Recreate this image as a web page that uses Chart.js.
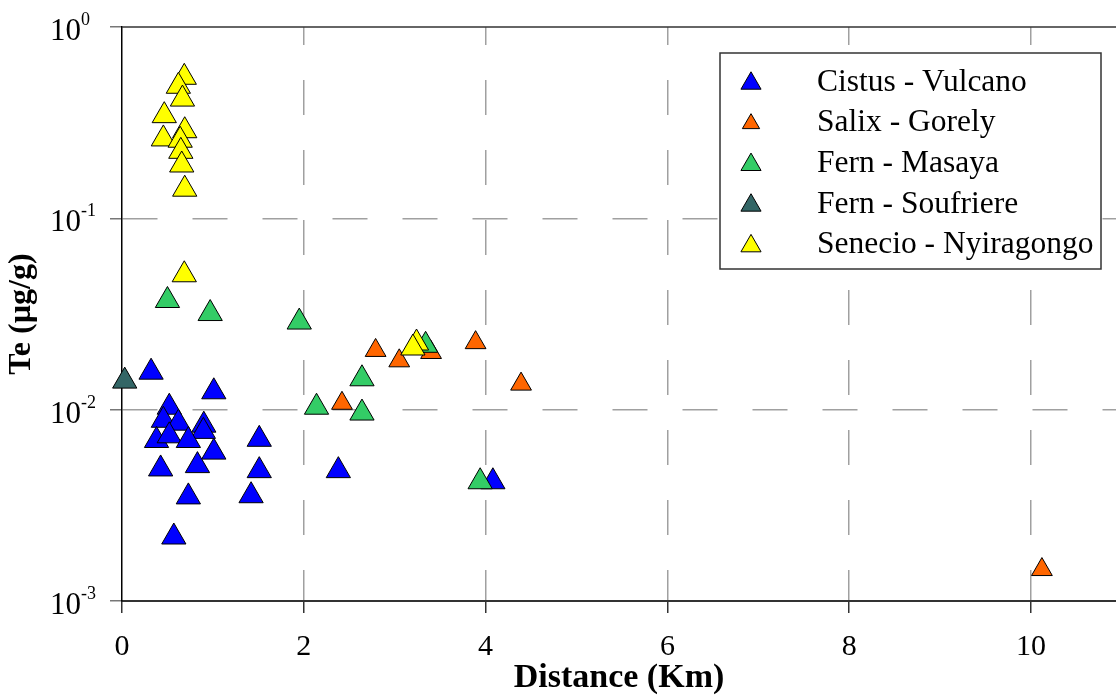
<!DOCTYPE html>
<html>
<head>
<meta charset="utf-8">
<title>Te in leaves vs distance</title>
<script src="https://cdn.jsdelivr.net/npm/chart.js@4.4.1/dist/chart.umd.min.js"></script>
<style>
  html, body { margin: 0; padding: 0; background: #fff; }
  #wrap { width: 1116px; height: 699px; }
</style>
</head>
<body>
<div id="wrap"><canvas id="chart" width="1116" height="699"></canvas></div>
<script>
// series, in legend order
const seriesNames = ['Cistus - Vulcano', 'Salix - Gorely', 'Fern - Masaya', 'Fern - Soufriere', 'Senecio - Nyiragongo'];

// distance from vent (Km) and Te content (µg/g) for each series
const cistusDist = [0.32, 1.01, 0.52, 0.455, 0.62, 0.90, 0.895, 0.38, 0.52, 0.73, 1.51, 1.01, 0.425, 0.83, 1.51, 0.73, 1.42, 0.57, 2.38, 4.08];
const cistusTe   = [0.0157, 0.0124, 0.0103, 0.0088, 0.0085, 0.0083, 0.0077, 0.0069, 0.0073, 0.0069, 0.0070, 0.0060, 0.0049, 0.0051, 0.0048, 0.0035, 0.00355, 0.00216, 0.0048, 0.0042];

const salixDist = [2.42, 2.79, 3.05, 3.40, 3.89, 4.39, 10.12];
const salixTe   = [0.0108, 0.0204, 0.0180, 0.0199, 0.0224, 0.0136, 0.00146];

const masayaDist = [0.50, 0.97, 1.95, 2.14, 2.64, 2.64, 3.34, 3.94];
const masayaTe   = [0.0372, 0.0318, 0.0287, 0.0103, 0.0145, 0.0096, 0.0217, 0.0042];

const soufriereDist = [0.03];
const soufriereTe   = [0.0141];

const senecioDist = [0.685, 0.62, 0.665, 0.465, 0.69, 0.455, 0.64, 0.647, 0.657, 0.69, 0.685, 3.24, 3.20];
const senecioTe   = [0.546, 0.49, 0.42, 0.344, 0.287, 0.26, 0.256, 0.224, 0.19, 0.142, 0.0507, 0.0223, 0.021];

// axis ticks
const xTickValues = [0, 2, 4, 6, 8, 10];
const yTickValues = [0.001, 0.01, 0.1, 1];

// marker looks
const seriesColors = ['#0000ff', '#ff6600', '#33cc66', '#336666', '#ffff00'];
const markerRadius = [14, 12, 14, 14, 14];

const FONT = 'Liberation Serif';
Chart.defaults.font.family = FONT;
Chart.defaults.color = '#000';

function toPoints(xs, ys) {
  return xs.map((x, i) => ({ x: x, y: ys[i] }));
}

const seriesData = [
  toPoints(cistusDist, cistusTe),
  toPoints(salixDist, salixTe),
  toPoints(masayaDist, masayaTe),
  toPoints(soufriereDist, soufriereTe),
  toPoints(senecioDist, senecioTe)
];

const datasets = seriesNames.map((name, i) => ({
  label: name,
  data: seriesData[i],
  // later series sit on top
  order: seriesNames.length - i,
  showLine: false,
  clip: false,
  pointStyle: 'triangle',
  pointRadius: markerRadius[i],
  pointHoverRadius: markerRadius[i],
  pointBackgroundColor: seriesColors[i],
  pointBorderColor: '#000',
  pointBorderWidth: 1,
  pointHoverBorderWidth: 1
}));

function triangle(ctx, x, y, r, fill) {
  ctx.beginPath();
  ctx.moveTo(x, y - r);
  ctx.lineTo(x + r * Math.sin(Math.PI * 2 / 3), y + r / 2);
  ctx.lineTo(x - r * Math.sin(Math.PI * 2 / 3), y + r / 2);
  ctx.closePath();
  ctx.fillStyle = fill;
  ctx.fill();
  ctx.strokeStyle = '#000';
  ctx.lineWidth = 1;
  ctx.stroke();
}

// top frame line, 10^n tick labels and the boxed legend
const decorations = {
  id: 'decorations',
  afterDraw(chart) {
    const { ctx, chartArea: area } = chart;
    const yScale = chart.scales.y;
    ctx.save();

    ctx.strokeStyle = '#333';
    ctx.lineWidth = 1.5;
    ctx.beginPath();
    ctx.moveTo(area.left, area.top);
    ctx.lineTo(area.right, area.top);
    ctx.stroke();

    ctx.fillStyle = '#000';
    ctx.textAlign = 'left';
    ctx.textBaseline = 'alphabetic';
    yScale.ticks.forEach(t => {
      const py = yScale.getPixelForValue(t.value);
      const exp = Math.round(Math.log10(t.value));
      ctx.font = '31px "' + FONT + '"';
      ctx.fillText('10', 50, py + 13);
      const w = ctx.measureText('10').width;
      ctx.font = '18px "' + FONT + '"';
      ctx.fillText(exp === 0 ? '0' : '-' + Math.abs(exp), 50 + w, py - 2);
    });

    const box = { left: 720, top: 53, right: 1101, bottom: 269 };
    ctx.fillStyle = '#fff';
    ctx.fillRect(box.left, box.top, box.right - box.left, box.bottom - box.top);
    ctx.strokeStyle = '#333';
    ctx.lineWidth = 1.5;
    ctx.strokeRect(box.left, box.top, box.right - box.left, box.bottom - box.top);

    chart.data.datasets.forEach((ds, i) => {
      const rowY = 80.5 + i * 40.65;
      const r = ds.pointRadius * 0.83;
      triangle(ctx, 751, rowY + r / 4, r, ds.pointBackgroundColor);
      ctx.fillStyle = '#000';
      ctx.font = '31.5px "' + FONT + '"';
      ctx.fillText(ds.label, 817, rowY + 10.2);
    });
    ctx.restore();
  }
};

const gridGray = '#a0a0a0';
const hidden = 'rgba(0,0,0,0)';

new Chart(document.getElementById('chart'), {
  type: 'scatter',
  data: { datasets: datasets },
  options: {
    responsive: false,
    animation: false,
    layout: { autoPadding: false, padding: { top: 27, left: 0, right: 0, bottom: 0 } },
    plugins: {
      legend: { display: false },
      tooltip: { enabled: false }
    },
    scales: {
      x: {
        type: 'linear',
        min: 0,
        max: 10.935,
        afterBuildTicks: s => { s.ticks = xTickValues.map(v => ({ value: v })); },
        afterFit: s => {
          s.height = 98;
          s.paddingLeft = 0;
          s.paddingRight = 0;
        },
        grid: {
          color: c => (c.tick && c.tick.value === 0) ? hidden : gridGray,
          lineWidth: 1.5,
          tickLength: 12,
          tickColor: '#333',
          tickWidth: 1.5,
          tickBorderDash: []
        },
        border: { color: '#333', width: 2, dash: [35, 35], dashOffset: 17 },
        ticks: {
          color: '#000',
          font: { family: FONT, size: 30 },
          padding: 16,
          maxRotation: 0,
          callback: v => String(v)
        },
        title: {
          display: true,
          text: 'Distance (Km)',
          color: '#000',
          font: { family: FONT, size: 34, weight: 'bold' },
          padding: 0
        }
      },
      y: {
        type: 'logarithmic',
        min: 0.001,
        max: 1,
        afterBuildTicks: s => { s.ticks = yTickValues.map(v => ({ value: v })); },
        afterFit: s => { s.width = 122; },
        grid: {
          color: c => (c.tick && (c.tick.value === 1 || c.tick.value === 0.001)) ? hidden : gridGray,
          lineWidth: 1.5,
          tickLength: 12,
          tickColor: '#777',
          tickWidth: 1.5,
          tickBorderDash: []
        },
        border: { color: '#000', width: 1.5, dash: [35, 35], dashOffset: 0 },
        ticks: { display: false },
        title: {
          display: true,
          text: 'Te (µg/g)',
          color: '#000',
          font: { family: FONT, size: 32, weight: 'bold' },
          padding: { top: 3, bottom: 0 }
        }
      }
    }
  },
  plugins: [decorations]
});
</script>
</body>
</html>
